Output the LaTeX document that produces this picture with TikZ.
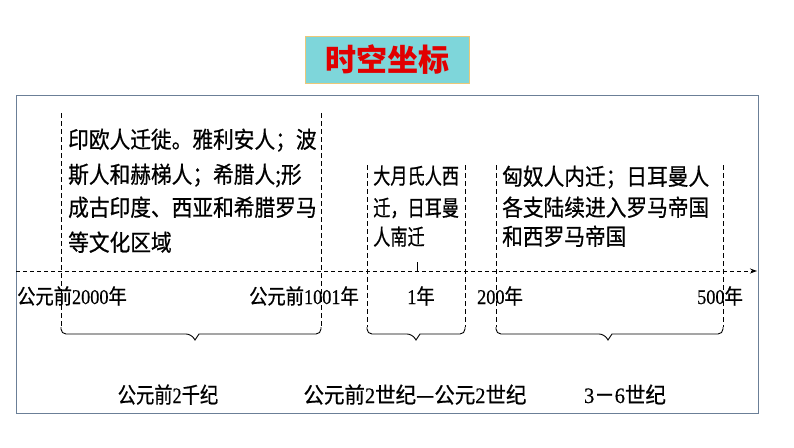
\documentclass[tikz,border=0pt]{standalone}
\usepackage{fontspec}
\usepackage{graphicx}
\setmainfont{Liberation Serif}[FakeBold=0.5]
\newfontfamily\cjk{Noto Sans CJK SC}[FakeBold=0.7]
\newfontfamily\cjktitle{Noto Sans CJK SC}
\usetikzlibrary{arrows.meta}
\definecolor{framec}{HTML}{6B7F97}
\definecolor{titlefill}{HTML}{7ED6DA}
\definecolor{titleborder}{HTML}{EBC878}
\definecolor{titlered}{HTML}{E10000}
\newcommand{\cnd}[2]{\scalebox{#1}[1]{#2}}
\tikzset{
  guide/.style={black, line width=1pt, dash pattern=on 5pt off 3pt},
  axisline/.style={black, line width=1pt, dash pattern=on 4pt off 3pt, -{Stealth[length=7pt,width=5pt]}},
  bracec/.style={black, line width=0.9pt},
  eventtxt/.style={anchor=base west, inner sep=0pt, font=\cjk\fontsize{23}{26}\selectfont},
  yeartxt/.style={anchor=base, inner sep=0pt, font=\fontsize{21}{24}\selectfont},
  eratxt/.style={anchor=base, inner sep=0pt, font=\fontsize{22}{25}\selectfont}
}
\begin{document}
\begin{tikzpicture}[x=1pt,y=-1pt]
\useasboundingbox (0,0) rectangle (794,447);
% frame
\draw[framec, line width=1pt] (16,95) rectangle (758,413);
% title
\node[fill=titlefill, draw=titleborder, line width=0.8pt, minimum width=164pt, minimum height=47pt, inner sep=0pt,
      text=titlered, font=\cjktitle\bfseries\fontsize{31}{34}\selectfont] (title) at (387,59.5) {时空坐标};
% key coordinates
\coordinate (a0) at (16,271);
\coordinate (a1) at (757,271);
\foreach \n/\x/\t in {g1/61/113, g2/321/113, g3/367/165, g4/465/165, g5/496/165, g6/723/165}{
  \coordinate (\n top) at (\x,\t);
  \coordinate (\n bot) at (\x,327);
}
% guides
\foreach \n in {g1,g2,g3,g4,g5,g6}{
  \draw[guide] (\n top) -- (\n bot);
}
% axis
\draw[axisline] (a0) -- (a1);
\coordinate (tick0) at (417,262);
\coordinate (tick1) at (417,271);
\draw[black, line width=1pt] (tick0) -- (tick1);
% braces
\foreach \l/\r/\m in {g1/g2/195, g3/g4/416, g5/g6/608}{
  \draw[bracec, rounded corners=5pt] (\l bot) |- (\m-4,334) [sharp corners] -- (\m,340) -- (\m+4,334) [rounded corners=5pt] -| (\r bot);
}
% event texts
\node[eventtxt] (e11) at (68,148) {\cnd{0.9}{印欧人迁徙。雅利安人；波}};
\node[eventtxt] (e12) at (68,183) {\cnd{0.9}{斯人和赫梯人；希腊人;形}};
\node[eventtxt] (e13) at (68,216) {\cnd{0.9}{成古印度、西亚和希腊罗马}};
\node[eventtxt] (e14) at (68,251) {\cnd{0.9}{等文化区域}};
\node[eventtxt, font=\cjk\fontsize{22}{25}\selectfont] (e21) at (373,184) {\cnd{0.78}{大月氏人西}};
\node[eventtxt, font=\cjk\fontsize{22}{25}\selectfont] (e22) at (373,216) {\cnd{0.78}{迁，日耳曼}};
\node[eventtxt, font=\cjk\fontsize{22}{25}\selectfont] (e23) at (373,245) {\cnd{0.78}{人南迁}};
\node[eventtxt] (e31) at (502,185) {\cnd{0.9}{匈奴人内迁；日耳曼人}};
\node[eventtxt] (e32) at (502,216) {\cnd{0.9}{各支陆续进入罗马帝国}};
\node[eventtxt] (e33) at (502,245) {\cnd{0.9}{和西罗马帝国}};
% year labels
\node[yeartxt] (y1) at (72,304) {\cnd{0.87}{{\cjk 公元前}2000{\cjk 年}}};
\node[yeartxt] (y2) at (304,304) {\cnd{0.87}{{\cjk 公元前}1001{\cjk 年}}};
\node[yeartxt] (y3) at (421,304) {\cnd{0.87}{1{\cjk 年}}};
\node[yeartxt] (y4) at (500,304) {\cnd{0.87}{200{\cjk 年}}};
\node[yeartxt] (y5) at (720,304) {\cnd{0.87}{500{\cjk 年}}};
% era labels
\node[eratxt] (r1) at (168,403) {\cnd{0.83}{{\cjk 公元前}2{\cjk 千纪}}};
\node[eratxt] (r2) at (415,403) {\cnd{0.93}{{\cjk 公元前}2{\cjk 世纪—公元}2{\cjk 世纪}}};
\node[eratxt] (r3) at (625,403) {\cnd{0.93}{3{\cjk －}6{\cjk 世纪}}};
\end{tikzpicture}
\end{document}
